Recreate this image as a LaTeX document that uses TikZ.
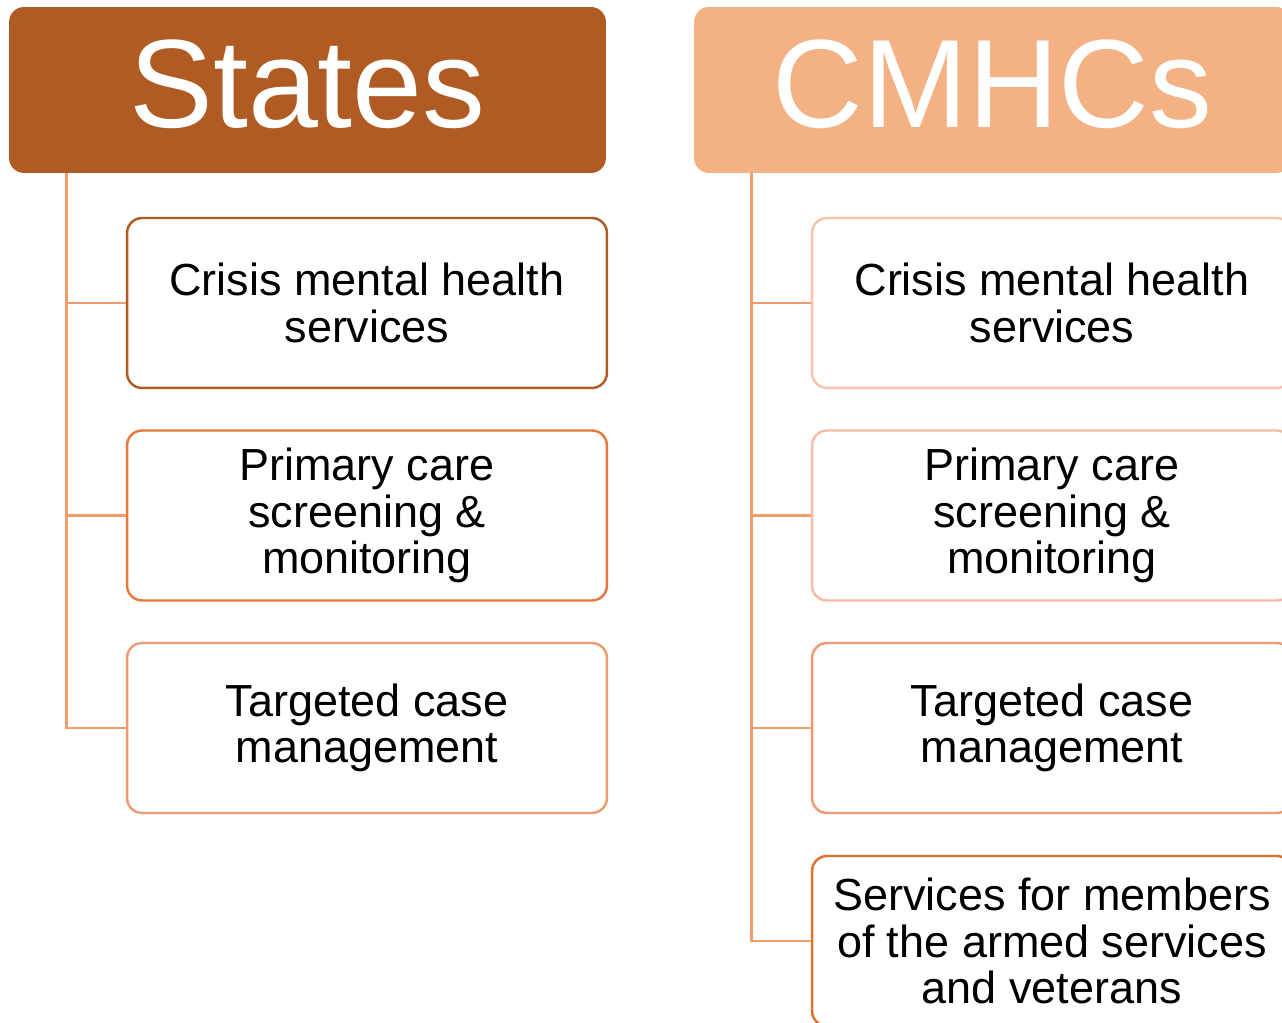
\documentclass[tikz,border=0pt]{standalone}
\usepackage{fontspec}
\setmainfont{Liberation Sans}
\usetikzlibrary{positioning}
\definecolor{rust}{HTML}{B05B23}
\definecolor{peach}{HTML}{F4B183}
\definecolor{stem}{HTML}{F19C6B}
\definecolor{ember}{HTML}{E57A3C}
\definecolor{apricot}{HTML}{EF9B72}
\definecolor{blush}{HTML}{F7C3A9}
\definecolor{shell}{HTML}{F5BBA3}
\definecolor{tangerine}{HTML}{E0712F}

\begin{document}
\begin{tikzpicture}[x=0.02cm, y=-0.02cm,
  head/.style={rectangle, rounded corners=0.3cm, minimum width=11.94cm, minimum height=3.32cm,
    text=white, text depth=0.24cm, font=\fontsize{71.5}{80}\selectfont},
  item/.style={rectangle, rounded corners=0.3cm, line width=1.4pt, fill=white,
    minimum width=9.6cm, minimum height=3.4cm, align=center, font=\fontsize{25.6}{26.6}\selectfont},
  link/.style={draw=stem, line width=1.4pt}]
\clip (0,0) rectangle (1282,1023);

% headings
\node[head, fill=rust] (states) at (307.5,90) {States};
\node[head, fill=peach] (cmhcs) at (992.5,90) {CMHCs};

% states column
\node[item, draw=rust] (s1) at (367,303) {Crisis mental health\\services};
\node[item, draw=ember] (s2) at (367,515.5) {Primary care\\screening \&\\monitoring};
\node[item, draw=apricot] (s3) at (367,728) {Targeted case\\management};

% cmhcs column
\node[item, draw=blush] (c1) at (1052,303) {Crisis mental health\\services};
\node[item, draw=shell] (c2) at (1052,515.5) {Primary care\\screening \&\\monitoring};
\node[item, draw=apricot] (c3) at (1052,728) {Targeted case\\management};
\node[item, draw=tangerine] (c4) at (1052,941) {Services for members\\of the armed services\\and veterans};

% connectors
\coordinate (sroot) at ([xshift=1.16cm]states.south west);
\coordinate (croot) at ([xshift=1.16cm]cmhcs.south west);
\draw[link] (sroot) |- (s1.west);
\draw[link] (sroot) |- (s2.west);
\draw[link] (sroot) |- (s3.west);
\draw[link] (croot) |- (c1.west);
\draw[link] (croot) |- (c2.west);
\draw[link] (croot) |- (c3.west);
\draw[link] (croot) |- (c4.west);
\end{tikzpicture}
\end{document}
